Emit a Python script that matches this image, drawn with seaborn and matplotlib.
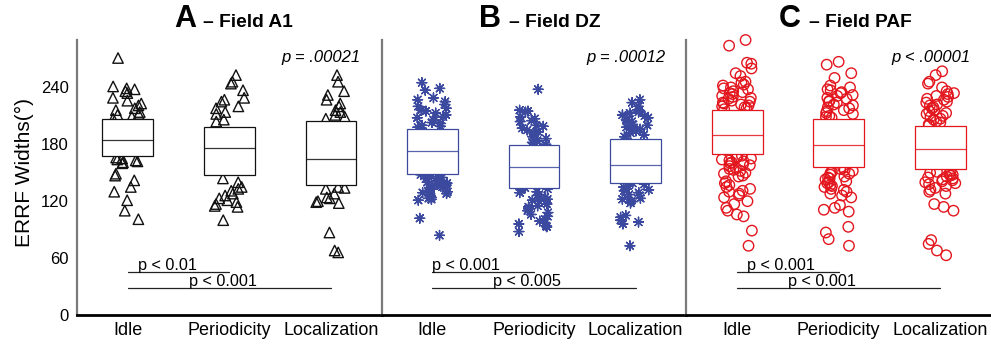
import numpy as np
import pandas as pd
import matplotlib
matplotlib.use("Agg")
import matplotlib.pyplot as plt
import seaborn as sns

# ---------------- data ----------------
conditions = ["Idle", "Periodicity", "Localization"]
fields = ["A", "B", "C"]
field_names = ["– Field A1", "– Field DZ", "– Field PAF"]
omnibus_p = ["p = .00021", "p = .00012", "p < .00001"]

a1_idle = [271, 241, 239, 238, 236, 234, 229, 226, 223, 221, 218, 216, 214, 212,
           211, 209, 207, 166, 165, 164, 163, 162, 161, 160, 149, 147, 142, 135,
           130, 121, 110, 101]
a1_period = [253, 246, 244, 237, 229, 227, 225, 220, 218, 214, 212, 206, 204, 144,
             140, 135, 133, 131, 128, 126, 123, 121, 119, 117, 115, 114, 100]
a1_local = [253, 246, 236, 232, 227, 223, 220, 216, 214, 211, 209, 207, 135, 134,
            133, 128, 124, 123, 120, 119, 118, 87, 68, 66]

dz_idle = [245, 239, 237, 229, 227, 225, 222, 220, 218, 216, 215, 213, 211, 209,
           208, 206, 205, 203, 202, 200, 199, 198, 197, 148, 147, 146, 146, 145,
           144, 143, 141, 140, 140, 139, 138, 137, 136, 135, 134, 133, 131, 130,
           129, 128, 126, 125, 124, 123, 122, 121, 102, 84]
dz_period = [238, 216, 215, 214, 209, 207, 205, 204, 200, 199, 197, 195, 193, 192,
             190, 188, 186, 184, 183, 182, 181, 180, 134, 133, 132, 130, 129, 127,
             126, 124, 122, 121, 120, 117, 115, 114, 112, 110, 108, 106, 104, 101,
             99, 96, 94, 93, 88]
dz_local = [227, 224, 220, 216, 214, 213, 211, 210, 208, 206, 205, 204, 201, 200,
            198, 197, 196, 194, 192, 190, 188, 186, 139, 138, 136, 135, 132, 131,
            129, 127, 126, 123, 122, 120, 118, 105, 103, 100, 98, 96, 73]

paf_idle = [290, 284, 266, 265, 260, 255, 252, 246, 245, 243, 242, 240, 239, 238,
            236, 235, 234, 233, 231, 230, 229, 228, 226, 225, 224, 223, 222, 221,
            220, 219, 218, 217, 168, 167, 166, 165, 164, 163, 162, 161, 160, 159,
            158, 157, 155, 154, 153, 152, 150, 149, 147, 146, 141, 139, 137, 135,
            133, 131, 130, 128, 126, 124, 120, 117, 113, 110, 106, 104, 89, 73]
paf_period = [267, 264, 255, 250, 242, 240, 238, 237, 235, 234, 232, 231, 229, 228,
              226, 225, 224, 222, 221, 219, 218, 216, 215, 213, 212, 210, 209, 208,
              155, 154, 153, 152, 151, 150, 149, 148, 146, 145, 144, 143, 141, 140,
              139, 137, 136, 135, 133, 132, 130, 128, 126, 124, 116, 113, 111, 109,
              93, 87, 80, 73]
paf_local = [257, 253, 246, 244, 240, 236, 234, 233, 231, 230, 228, 227, 225, 224,
             222, 221, 219, 218, 216, 215, 213, 212, 210, 209, 207, 206, 204, 203,
             201, 200, 152, 151, 150, 149, 148, 147, 146, 145, 144, 143, 142, 141,
             140, 139, 138, 136, 134, 132, 130, 128, 117, 114, 110, 79, 75, 68, 63]

# box statistics (lower edge, middle line, upper edge)
box_low = {"A": [167.6, 147.5, 136.6], "B": [148.9, 134.4, 139.7], "C": [169.7, 155.6, 153.5]}
box_mid = {"A": [184.9, 176.0, 164.7], "B": [172.9, 155.6, 158.4], "C": [189.8, 179.6, 174.7]}
box_high = {"A": [206.4, 198.3, 205.0], "B": [196.2, 178.9, 185.3], "C": [216.0, 206.4, 199.0]}

pair_labels = {"A": ["p < 0.01", "p < 0.001"],
               "B": ["p < 0.001", "p < 0.005"],
               "C": ["p < 0.001", "p < 0.001"]}
pair_targets = [1, 2]          # Idle vs Periodicity, Idle vs Localization
pair_heights = [45, 28]

series = {
    "A": [a1_idle, a1_period, a1_local],
    "B": [dz_idle, dz_period, dz_local],
    "C": [paf_idle, paf_period, paf_local],
}
rows = []
for f in fields:
    for cond, vals in zip(conditions, series[f]):
        for v in vals:
            rows.append((f, cond, v))
df = pd.DataFrame(rows, columns=["field", "condition", "width"])

# ---------------- style ----------------
sns.set_style("white")
plt.rcParams["font.family"] = ["Liberation Sans", "DejaVu Sans"]
plt.rcParams["text.color"] = "black"
plt.rcParams["axes.labelcolor"] = "black"

colors = {"A": "#111111", "B": "#3b4a9e", "C": "#e3161e"}
markers = {"A": "^", "B": (8, 2, 0), "C": "o"}
msizes = {"A": 7.5, "B": 7.0, "C": 7.5}
title_x = {"A": (0.393, 0.412), "B": (0.392, 0.417), "C": (0.374, 0.401)}
pair_text_x = {"A": [0.1, 0.6], "B": [0.0, 0.6], "C": [0.1, 0.5]}

fig = plt.figure(figsize=(9.91, 3.47), dpi=100)
axes = fig.subplots(1, 3)
fig.subplots_adjust(left=77 / 991, right=1.0, bottom=32 / 347, top=1 - 40 / 347, wspace=0)

for i, (ax, f) in enumerate(zip(axes, fields)):
    sub = df[df["field"] == f]
    col = colors[f]
    np.random.seed(11 + i)
    sns.stripplot(data=sub, x="condition", y="width", order=conditions, jitter=0.15,
                  marker=markers[f], size=msizes[f], color=col, ax=ax, zorder=2)
    for c in ax.collections:
        c.set_facecolor("none")
        c.set_edgecolor(col)
        c.set_linewidth(1.0)
        c.set_clip_on(False)

    pos = np.arange(len(conditions))
    lo = np.array(box_low[f])
    hi = np.array(box_high[f])
    ax.bar(pos, hi - lo, bottom=lo, width=0.5, facecolor="white", edgecolor=col,
           linewidth=0.9, zorder=3)
    ax.hlines(box_mid[f], pos - 0.25, pos + 0.25, color=col, lw=0.9, alpha=0.85, zorder=4)

    # pairwise comparison lines
    for k, (tgt, h, lab) in enumerate(zip(pair_targets, pair_heights, pair_labels[f])):
        ax.plot([0, tgt], [h, h], color="#222222", lw=0.9, zorder=2)
        ax.text(pair_text_x[f][k], h + 2.4, lab, ha="left", va="baseline", fontsize=11.7)

    ax.text(0.932, 0.921, omnibus_p[i], transform=ax.transAxes, ha="right",
            va="baseline", fontsize=12, style="italic")

    lx, rx = title_x[f]
    ax.text(lx, 1.046, f, transform=ax.transAxes, ha="right", va="baseline",
            fontsize=22, fontweight="bold")
    ax.text(rx, 1.046, field_names[i], transform=ax.transAxes, ha="left",
            va="baseline", fontsize=13.8, fontweight="bold")

    ax.set_xlim(-0.5, 2.5)
    ax.set_ylim(0, 290)
    ax.set_xlabel("")
    ax.set_ylabel("")
    ax.set_yticks([0, 60, 120, 180, 240])
    for s in ["top", "right"]:
        ax.spines[s].set_visible(False)
    ax.spines["left"].set_color("#7a7a7a")
    ax.spines["left"].set_linewidth(1.6)
    ax.spines["bottom"].set_color("black")
    ax.spines["bottom"].set_linewidth(2.0)
    ax.tick_params(axis="x", direction="in", length=7, width=0.9, color="#444444",
                   labelcolor="black", labelsize=13, pad=5)
    if i == 0:
        ax.tick_params(axis="y", direction="in", length=4, width=0.9, color="#444444",
                       labelcolor="black", labelsize=12, pad=6)
        ax.set_ylabel("ERRF Widths(°)", fontsize=15, color="black")
        ax.yaxis.set_label_coords(-0.14, 0.518)
    else:
        ax.tick_params(axis="y", left=False, labelleft=False)

fig.savefig("out.png", dpi=100)
